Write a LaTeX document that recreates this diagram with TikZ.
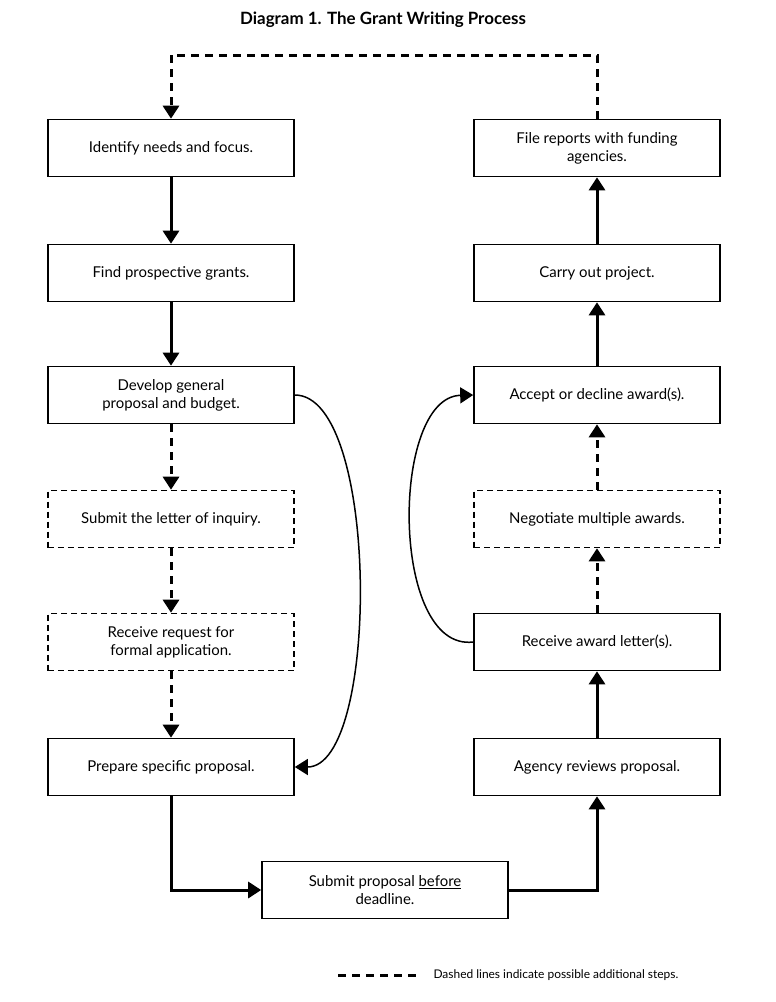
\documentclass[tikz,border=0pt]{standalone}
\usepackage{fontspec}
\setmainfont{Lato}
\usetikzlibrary{arrows.meta}
\begin{document}
\begin{tikzpicture}[x=1bp,y=-1bp,
  box/.style={draw,line width=1.6bp,minimum width=246bp,minimum height=57bp,align=center,font=\fontsize{15}{18}\selectfont,inner sep=2bp},
  dbox/.style={box,dashed,dash pattern=on 6bp off 4bp},
  conn/.style={line width=3bp,-{Triangle[length=13bp,width=16bp]}},
  dconn/.style={conn,dash pattern=on 8bp off 6bp},
  thin/.style={line width=1.5bp,-{Triangle[length=13bp,width=16bp]}}]
\useasboundingbox (0,0) rectangle (776,1002);
\node[font=\bfseries\fontsize{17}{20}\selectfont] (title) at (383,20) {Diagram 1. The Grant Writing Process};
\node[box] (a1) at (171,148) {Identify needs and focus.};
\node[box] (a2) at (171,273) {Find prospective grants.};
\node[box] (a3) at (171,395) {Develop general\\proposal and budget.};
\node[dbox] (a4) at (171,519) {Submit the letter of inquiry.};
\node[dbox] (a5) at (171,642) {Receive request for\\formal application.};
\node[box] (a6) at (171,767) {Prepare specific proposal.};
\node[box] (s) at (385,890) {Submit proposal \underline{before}\\deadline.};
\node[box] (b1) at (597,767) {Agency reviews proposal.};
\node[box] (b2) at (597,642) {Receive award letter(s).};
\node[dbox] (b3) at (597,519) {Negotiate multiple awards.};
\node[box] (b4) at (597,395) {Accept or decline award(s).};
\node[box] (b5) at (597,273) {Carry out project.};
\node[box] (b6) at (597,148) {File reports with funding\\agencies.};
\coordinate (t1) at (597,55);
\coordinate (t2) at (171,55);
\draw[dconn] (b6.north) -- (t1) -- (t2) -- (a1.north);
\draw[conn] (a1) -- (a2);
\draw[conn] (a2) -- (a3);
\draw[dconn] (a3) -- (a4);
\draw[dconn] (a4) -- (a5);
\draw[dconn] (a5) -- (a6);
\draw[conn] (a6.south) |- (s.west);
\draw[conn] (s.east) -| (b1.south);
\draw[conn] (b1) -- (b2);
\draw[dconn] (b2) -- (b3);
\draw[dconn] (b3) -- (b4);
\draw[conn] (b4) -- (b5);
\draw[conn] (b5) -- (b6);
\draw[thin] (a3.east) .. controls (380,395) and (380,767) .. (a6.east);
\draw[thin] (b2.west) .. controls (390,652) and (390,397) .. (b4.west);
\coordinate (l1) at (338,975);
\coordinate (l2) at (418,975);
\draw[line width=3bp,dash pattern=on 8bp off 6bp] (l1) -- (l2);
\node[anchor=west,font=\fontsize{12}{14}\selectfont] (leg) at (430,975) {Dashed lines indicate possible additional steps.};
\end{tikzpicture}
\end{document}
